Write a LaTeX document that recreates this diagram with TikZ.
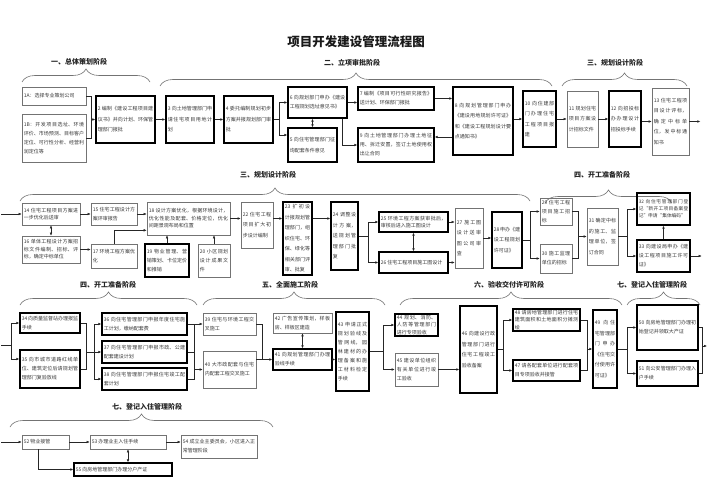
\documentclass[tikz,border=0pt]{standalone}
\usepackage{fontspec}
\setmainfont{Noto Sans CJK SC}
\usetikzlibrary{arrows.meta,decorations.pathreplacing}
\XeTeXlinebreaklocale "zh"
\XeTeXlinebreakskip=0pt plus 0.6pt
\tikzset{
 bxbase/.style={draw, inner xsep=1.6pt, inner ysep=1pt, align=justify, text=black!78, font=\fontsize{5}{9}\selectfont},
 tb/.style={bxbase, draw=black!55, line width=0.6pt},
 kb/.style={bxbase, draw=black, line width=1.4pt},
 loose/.style={font=\fontsize{5}{10.5}\selectfont},
 tight/.style={font=\fontsize{5}{7.5}\selectfont},
 vtight/.style={font=\fontsize{4.7}{6.9}\selectfont},
 ln/.style={draw=black!85, line width=0.5pt},
 arr/.style={ln, -{Latex[length=3pt,width=2.6pt]}},
 darr/.style={ln, {Latex[length=3pt,width=2.6pt]}-{Latex[length=3pt,width=2.6pt]}},
 hdr/.style={font=\fontsize{7}{8}\selectfont\bfseries, text=black!85},
 brc/.style={draw=black!55, line width=0.6pt, decorate, decoration={brace, amplitude=13pt}},
}
\newcommand\mybx[7]{%
 \pgfmathsetmacro\bxw{#5-#3}\pgfmathsetmacro\bxh{#6-#4}%
 \pgfmathsetmacro\bxt{#5-#3-3.6}%
 \pgfmathsetmacro\bxx{(#3+#5)/2}\pgfmathsetmacro\bxy{(#4+#6)/2}%
 \node[#1, minimum width=\bxw pt, minimum height=\bxh pt, text width=\bxt pt] (#2) at (\bxx,\bxy) {#7};}
\begin{document}
\begin{tikzpicture}[x=1pt,y=-1pt]
\fill[white] (0,0) rectangle (707,500);
\useasboundingbox (0,0) rectangle (707,500);

\node[font=\fontsize{12.5}{14}\selectfont\bfseries, text=black!90] (title) at (356,42) {项目开发建设管理流程图};

% ---------- headers and braces ----------
\node[hdr] (h1) at (79,62) {一、总体策划阶段};
\node[hdr] (h2) at (352,63) {二、立项审批阶段};
\node[hdr] (h3) at (615,63) {三、规划设计阶段};
\node[hdr] (h4) at (268,175) {三、规划设计阶段};
\node[hdr] (h5) at (602,175) {四、开工准备阶段};
\node[hdr] (h6) at (108,285) {四、开工准备阶段};
\node[hdr] (h7) at (290,285) {五、全面施工阶段};
\node[hdr] (h8) at (509,285) {六、验收交付许可阶段};
\node[hdr] (h9) at (652,285) {七、登记入住管理阶段};
\node[hdr] (h10) at (147,407) {七、登记入住管理阶段};

\draw[brc] (22,82) -- (150,82);
\draw[brc] (160,86) -- (552,86);
\draw[brc] (562,86) -- (687,86);
\draw[brc] (20,201) -- (530,201);
\draw[brc] (545,203) -- (672,203);
\draw[brc] (20,305) -- (197,305);
\draw[brc] (203,305) -- (385,305);
\draw[brc] (400,305) -- (622,305);
\draw[brc] (627,305) -- (700,305);
\draw[brc] (10,427) -- (273,427);

% ---------- row 1 ----------
\mybx{tb}{n1a}{22}{87}{86}{105}{1A：选择专业策划公司}
\mybx{tb}{n1b}{22}{114}{86}{162}{1B：开发项目选址、环境评价、市场预测、目标客户定位、可行性分析、经营利润定位等}
\mybx{kb,loose}{n2}{96}{96}{155}{143}{2 编制《建设工程项目建议书》并向计划、环保管理部门报批}
\mybx{kb,loose}{n3}{166}{96}{214}{143}{3 向土地管理部门申请住宅项目用地计划}
\mybx{kb,loose}{n4}{224}{96}{273}{143}{4 委托编制规划初步方案并报规划部门审批}
\mybx{kb}{n6}{288}{87}{347}{118}{6 向规划部门申办《建设工程规划选址意见书》}
\mybx{kb,loose}{n5}{288}{128}{337}{162}{5 向住宅管理部门征询配套条件意见}
\mybx{kb}{n7}{358}{87}{434}{110}{7 编制《项目可行性研究报告》送计划、环保部门报批}
\mybx{kb}{n9}{358}{128}{434}{162}{9 向土地管理部门办理土地征用、拆迁安置，签订土地使用权出让合同}
\mybx{kb,loose}{n8}{453}{87}{513}{155}{8 向规划管理部门申办《建设用地规划许可证》和《建设工程规划设计要点通知书》}
\mybx{kb,loose}{n10}{523}{91}{556}{147}{10 向住建部门办理住宅工程项目报建}
\mybx{tb,loose}{n11}{567}{91}{598}{147}{11 规划住宅项目方案设计招标文件}
\mybx{kb,loose}{n12}{609}{91}{641}{147}{12 向招投标办办理设计招投标手续}
\mybx{tb,loose}{n13}{652}{88}{689}{155}{13 住宅工程项目设计评标，确定中标单位，发中标通知书}

\coordinate (j1) at ([xshift=5pt]n1a.east);
\draw[ln] (n1a.east) -- (j1) |- (n1b.east);
\draw[arr] (j1 |- n2.west) -- (n2.west);
\draw[arr] (n2.east) -- (n3.west);
\draw[arr] (n3.east) -- (n4.west);
\coordinate (j2) at ([xshift=6pt]n4.east);
\draw[ln] (n4.east) -- (j2);
\draw[arr] (j2) |- (n6.west);
\draw[arr] (j2) |- ([yshift=10pt]n5.west);
\draw[darr] (n5.north) -- (n5.north |- n6.south);
\draw[arr] (n6.east) -- (n6.east -| n7.west);
\draw[arr] ([xshift=-5pt]n6.south east) |- (n9.west);
\draw[arr] (n7.east) -- (n7.east -| n8.west);
\coordinate (c89) at ([yshift=8pt]n9.east);
\draw[arr] (n8.west |- c89) -- (c89);
\draw[arr] (n8.east |- n10.west) -- (n10.west);
\draw[arr] (n10.east) -- (n11.west);
\draw[arr] (n11.east) -- (n12.west);
\draw[arr] (n12.east |- n13.west) -- (n13.west);
\draw[arr] (n13.east) -- ++(11,0) coordinate (o1);

% ---------- row 2 ----------
\mybx{tb,tight}{n14}{22}{203}{80}{225}{14 住宅工程项目方案进一步优化后送审}
\mybx{tb,tight}{n16}{22}{236}{80}{263}{16 单体工程设计方案招标文件编制、招标、评标，确定中标单位}
\mybx{tb}{n15}{91}{203}{137}{225}{15 住宅工程设计方案评审报告}
\mybx{tb}{n17}{91}{244}{137}{268}{17 环境工程方案优化}
\mybx{tb,tight}{n18}{147}{202}{230}{235}{18 设计方案优化，根据环境设计，优化性能及配套、价格定位，优化间距景观布局和位置}
\mybx{kb}{n19}{145}{244}{189}{277}{19 物业管理、营销策划、卡位定价和推销}
\mybx{tb}{n20}{198}{244}{230}{277}{20 小区规划设计成果文件}
\mybx{tb,loose}{n22}{241}{202}{273}{248}{22 住宅工程项目扩大初步设计编制}
\mybx{kb,loose}{n23}{283}{202}{312}{275}{23 扩初设计报规划管理部门，组织住宅、环保、绿化等相关部门评审、批复}
\mybx{kb,loose}{n24}{331}{202}{358}{270}{24 调整设计方案，送规划管理部门批复}
\mybx{kb,tight}{n25}{379}{212}{448}{232}{25 环境工程方案获审批后，审核后进入施工图设计}
\mybx{kb}{n26}{379}{252}{448}{273}{26 住宅工程项目施工图设计}
\mybx{tb,loose}{n27}{455}{208}{483}{268}{27 施工图设计送审图公司审查}
\mybx{kb,loose}{n28}{492}{212}{522}{268}{28 申办《建设工程规划许可证》}
\mybx{tb}{n29}{540}{198}{572}{225}{29 住宅工程项目施工招标}
\mybx{tb}{n30}{540}{244}{572}{273}{30 施工监理单位的招标}
\mybx{tb,loose}{n31}{587}{208}{618}{265}{31 确定中标的施工、监理单位，签订合同}
\mybx{kb,vtight}{n32}{637}{193}{690}{225}{32 向住宅管理部门登记“新开工项目备案登记”申请“集体编码”}
\mybx{kb}{n33}{637}{240}{690}{272}{33 向建设局申办《建设工程项目施工许可证》}

\coordinate (i2) at (1,214);
\draw[arr] (i2) -- (n14.west);
\draw[darr] (n14.south) -- (n16.north);
\draw[arr] (n14.east) -- (n15.west);
\draw[arr] (n15.east) -- (n15.east -| n18.west);
\draw[arr] (n16.east) -- (n16.east -| n17.west);
\draw[arr] (n17.north) |- ([yshift=5pt]n18.south west);
\draw[arr] (n19.north) -- (n19.north |- n18.south);
\draw[arr] (n20.north) -- (n20.north |- n18.south);
\draw[arr] (n18.east) -- (n18.east -| n22.west);
\draw[arr] (n22.east |- n18.east) -- (n23.west |- n18.east);
\draw[arr] (n23.east |- n18.east) -- (n24.west |- n18.east);
\coordinate (j3) at ([xshift=10pt]n24.east);
\draw[ln] (n24.east) -- (j3);
\draw[arr] (j3) |- (n25.west);
\draw[arr] (j3) |- (n26.west);
\draw[darr] (n25.south) -- (n26.north);
\draw[arr] (n25.east) -- (n25.east -| n27.west);
\draw[arr] (n26.east) -- (n26.east -| n27.west);
\draw[arr] (n27.east) -- (n27.east -| n28.west);
\coordinate (j4) at ([xshift=8pt]n28.east);
\draw[ln] (n28.east) -- (j4);
\draw[arr] (j4) |- (n29.west);
\draw[arr] (j4) |- (n30.west);
\coordinate (j5) at ([xshift=6pt]n29.east);
\draw[ln] (n29.east) -- (j5) -- (j5 |- n30.east) -- (n30.east);
\draw[arr] (j5 |- n31.west) -- (n31.west);
\coordinate (j6) at ([xshift=9pt]n31.east);
\draw[ln] (n31.east) -- (j6);
\draw[arr] (j6) |- (n32.west);
\draw[arr] (j6) |- (n33.west);
\draw[arr] (n33.north) -- (n32.south);
\draw[arr] (n33.east) -- ++(11,0) coordinate (o2);

% ---------- row 3 ----------
\mybx{kb}{n34}{20}{313}{80}{333}{34 向质量监督站办理报监手续}
\mybx{kb}{n35}{20}{350}{80}{388}{35 向市城市道路红线单位、建筑定位后请规划管理部门复验放线}
\mybx{kb}{n36}{102}{313}{187}{335}{36 向住宅管理部门申报年度住宅施工计划，缴纳配套费}
\mybx{kb}{n37}{102}{341}{187}{363}{37 向住宅管理部门申报市政、公建配套建设计划}
\mybx{kb}{n38}{102}{368}{187}{390}{38 向住宅管理部门申报住宅竣工配套计划}
\mybx{tb}{n39}{203}{313}{256}{335}{39 住宅与环境工程交叉施工}
\mybx{tb}{n40}{203}{351}{256}{388}{40 大市政配套与住宅内配套工程交叉施工}
\mybx{tb}{n42}{273}{313}{332}{333}{42 广告宣传策划，样板房、样板区建造}
\mybx{kb}{n41}{273}{349}{332}{370}{41 向规划管理部门办理验线手续}
\mybx{kb}{n43}{336}{312}{369}{391}{43 申请正式规划验线及管网线，园林建材的办理备案和施工材料检定手续}
\mybx{kb,tight}{n44}{395}{314}{438}{336}{44 规划、消防、人防等管理部门进行专项验收}
\mybx{tb}{n45}{395}{353}{438}{386}{45 建设单位组织有关单位进行竣工验收}
\mybx{kb,loose}{n46}{460}{306}{497}{393}{46 向建设行政管理部门进行住宅工程竣工验收备案}
\mybx{kb,tight}{n48}{513}{309}{580}{331}{48 请房地管理部门进行住宅建筑面积和土地面积分摊测绘}
\mybx{kb}{n47}{513}{360}{580}{381}{47 请各配套单位进行配套项目专项验收并接管}
\mybx{kb,loose}{n49}{593}{310}{617}{388}{49 向住宅管理部门申办《住宅交付使用许可证》}
\mybx{kb}{n50}{637}{305}{698}{350}{50 向房地管理部门办理初始登记并领取大产证}
\mybx{kb}{n51}{637}{361}{698}{386}{51 向公安管理部门办理入户手续}

\coordinate (i3) at (1,345);
\coordinate (j7) at (11,345);
\draw[ln] (i3) -- (j7);
\draw[arr] (j7) |- (n34.west);
\draw[arr] (j7) |- ([yshift=10pt]n35.west);
\coordinate (j8) at ([xshift=6pt]n34.east);
\draw[ln] (n34.east) -- (j8) -- (j8 |- n35.east) -- (n35.east);
\coordinate (j9) at ([xshift=14pt]n34.east |- n37.west);
\draw[ln] (j8 |- j9) -- (j9);
\draw[arr] (j9) |- (n36.west);
\draw[arr] (j9) |- (n38.west);
\draw[arr] (j9) -- (n37.west);
\coordinate (j10) at ([xshift=7pt]n36.east);
\draw[ln] (n36.east) -- (j10) -- (j10 |- n38.east) -- (n38.east);
\draw[ln] (n37.east) -- (n37.east -| j10);
\draw[arr] (j10 |- n39.west) -- (n39.west);
\draw[arr] (j10 |- n40.west) -- (n40.west);
\coordinate (j11) at ([xshift=6pt]n39.east);
\draw[ln] (n39.east) -- (j11) -- (j11 |- n41.west);
\draw[arr] (n40.east |- n41.west) -- (n41.west);
\draw[darr] (n42.south) -- (n41.north);
\draw[arr] (n41.east) -- (n41.east -| n43.west);
\coordinate (j12) at ([xshift=14pt]n43.east);
\draw[ln] (n43.east) -- (j12);
\draw[arr] (j12) |- (n44.west);
\draw[arr] (j12) |- (n45.west);
\draw[arr] (n45.east) -- (n45.east -| n46.west);
\coordinate (j14) at ([xshift=6pt]n46.east);
\draw[ln] (n46.east) -- (j14);
\draw[arr] (j14) |- (n48.west);
\draw[arr] (j14) |- (n47.west);
\coordinate (j15) at ([xshift=7pt]n48.east);
\draw[ln] (n48.east) -- (j15) -- (j15 |- n47.east) -- (n47.east);
\draw[arr] (j15 |- n49.west) -- (n49.west);
\coordinate (j16) at ([xshift=10pt]n49.east);
\draw[ln] (n49.east) -- (j16);
\draw[arr] (j16) |- (n50.west);
\draw[arr] (j16) |- (n51.west);
\coordinate (j17) at ([xshift=4pt]n50.east);
\draw[ln] (n50.east) -- (j17) -- (j17 |- n51.east) -- (n51.east);
\coordinate (o3) at (707,346);
\draw[arr] (j17 |- o3) -- (o3);

% ---------- row 4 ----------
\mybx{tb}{n52}{22}{435}{69}{449}{52 物业接管}
\mybx{tb}{n53}{90}{435}{166}{449}{53 办理业主入住手续}
\mybx{tb}{n54}{181}{435}{257}{458}{54 成立业主委员会，小区进入正常管理阶段}
\mybx{kb}{n55}{74}{463}{172}{476}{55 向房地管理部门办理分户产证}

\coordinate (i4) at (1,442);
\draw[arr] (i4) -- (n52.west);
\draw[arr] (n52.east) -- (n53.west);
\draw[arr] (n53.east) -- (n53.east -| n54.west);
\draw[arr] ([xshift=-7pt]n52.south) |- (n55.west);
\draw[darr] (n53.south) -- (n53.south |- n55.north);
\end{tikzpicture}
\end{document}
